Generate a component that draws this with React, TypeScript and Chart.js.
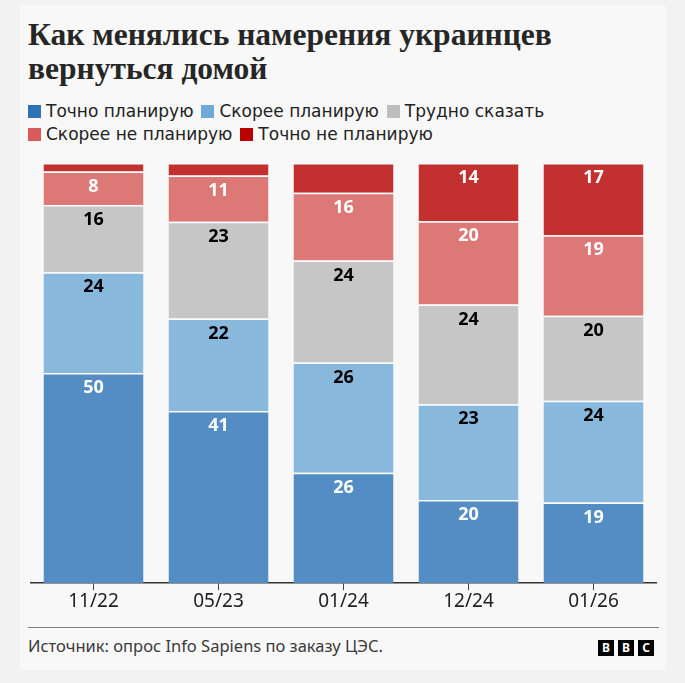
import { useEffect, useRef } from "react";
import { Chart, registerables } from "chart.js";

Chart.register(...registerables);

const periods = ["11/22", "05/23", "01/24", "12/24", "01/26"];
const seriesNames = [
  "Точно планирую",
  "Скорее планирую",
  "Трудно сказать",
  "Скорее не планирую",
  "Точно не планирую",
];
const definitelyYes = [50, 41, 26, 20, 19];
const ratherYes = [24, 22, 26, 23, 24];
const hardToSay = [16, 23, 24, 24, 20];
const ratherNo = [8, 11, 16, 20, 19];
const definitelyNo = [2, 3, 7, 14, 17];

const legendColors = ["#2e71b6", "#6fa9d8", "#bdbdbd", "#d75b5b", "#bb0000"];
const barColors = ["#538dc3", "#89b8dd", "#c6c6c6", "#dc7876", "#c33030"];
const labelColors = ["#ffffff", "#000000", "#000000", "#ffffff", "#ffffff"];
const minLabelValue = 8;

const allSeries = [definitelyYes, ratherYes, hardToSay, ratherNo, definitelyNo];
// each column is drawn as a share of its own total (rounded values don't always add to 100)
const totals = periods.map((_, i) => allSeries.reduce((s, arr) => s + arr[i], 0));

const sans = "'Noto Sans', sans-serif";

const segmentLabels = {
  id: "segmentLabels",
  afterDatasetsDraw(chart: Chart) {
    const ctx = chart.ctx;
    ctx.save();
    ctx.font = `bold 18px ${sans}`;
    ctx.textAlign = "center";
    ctx.textBaseline = "middle";
    chart.data.datasets.forEach((ds, di) => {
      const meta = chart.getDatasetMeta(di);
      meta.data.forEach((bar: any, i) => {
        const value = allSeries[di][i];
        if (value < minLabelValue) return;
        ctx.fillStyle = labelColors[di];
        ctx.fillText(String(value), bar.x, bar.y + 15);
      });
    });
    ctx.restore();
  },
};

const BarChart = () => {
  const canvasRef = useRef<HTMLCanvasElement>(null);

  useEffect(() => {
    if (!canvasRef.current) return;
    const chart = new Chart(canvasRef.current, {
      type: "bar",
      data: {
        labels: periods,
        datasets: allSeries.map((arr, di) => ({
          label: seriesNames[di],
          data: arr.map((v, i) => (v / totals[i]) * 100),
          backgroundColor: barColors[di],
          borderColor: "rgba(255,255,255,0.75)",
          borderWidth: { top: 1.5, bottom: 0, left: 0, right: 0 },
          borderSkipped: false,
          barPercentage: 0.8,
          categoryPercentage: 1,
        })),
      },
      options: {
        animation: false,
        responsive: false,
        layout: { padding: { left: 31, right: 29, top: 13, bottom: 7 } },
        plugins: {
          legend: { display: false },
          tooltip: { enabled: false },
        },
        scales: {
          x: {
            stacked: true,
            grid: {
              display: true,
              drawOnChartArea: false,
              drawTicks: true,
              tickLength: 7,
              offset: false,
              color: "#444",
            },
            border: { display: true, color: "#333", width: 1.5 },
            ticks: {
              color: "#222",
              font: { family: sans, size: 19 },
              padding: 0,
            },
          },
          y: {
            stacked: true,
            display: false,
            min: 0,
            max: 100,
          },
        },
      },
      plugins: [segmentLabels],
    });
    return () => chart.destroy();
  }, []);

  return (
    <canvas
      ref={canvasRef}
      width={685}
      height={470}
      style={{ position: "absolute", left: 0, top: 150, width: 685, height: 470 }}
    />
  );
};

export default function App() {
  return (
    <div
      style={{
        position: "fixed",
        left: 0,
        top: 0,
        width: 685,
        height: 683,
        background: "#f2f2f2",
        fontFamily: sans,
        overflow: "hidden",
      }}
    >
      <div
        style={{
          position: "absolute",
          left: 20,
          top: 5,
          width: 646,
          height: 665,
          background: "#f8f8f8",
        }}
      />
      <div
        style={{
          position: "absolute",
          left: 28,
          top: 18,
          width: 640,
          fontFamily: "'Liberation Serif', serif",
          fontWeight: "bold",
          fontSize: 31.5,
          lineHeight: "34px",
          color: "#262626",
        }}
      >
        Как менялись намерения украинцев
        <br />
        вернуться домой
      </div>
      <div
        style={{
          position: "absolute",
          left: 28,
          top: 100,
          width: 620,
          display: "flex",
          flexWrap: "wrap",
          rowGap: 0,
          columnGap: 8,
          fontFamily: "'DejaVu Sans', sans-serif",
          fontSize: 17,
          lineHeight: "23px",
          color: "#222",
        }}
      >
        {seriesNames.map((name, i) => (
          <div key={name} style={{ display: "flex", alignItems: "center" }}>
            <span
              style={{
                display: "inline-block",
                width: 13,
                height: 13,
                background: legendColors[i],
                marginRight: 5,
              }}
            />
            {name}
          </div>
        ))}
      </div>
      <BarChart />
      <div
        style={{
          position: "absolute",
          left: 28,
          top: 627,
          width: 631,
          height: 0,
          borderTop: "1px solid #808080",
        }}
      />
      <div
        style={{
          position: "absolute",
          left: 28,
          top: 635,
          fontSize: 16.5,
          lineHeight: "22px",
          color: "#3a3a3a",
        }}
      >
        Источник: опрос Info Sapiens по заказу ЦЭС.
      </div>
      <div style={{ position: "absolute", left: 598, top: 640, display: "flex", gap: 4 }}>
        {["B", "B", "C"].map((l, i) => (
          <div
            key={i}
            style={{
              width: 16,
              height: 16,
              background: "#000",
              color: "#fff",
              fontSize: 12,
              fontWeight: "bold",
              lineHeight: "16px",
              textAlign: "center",
            }}
          >
            {l}
          </div>
        ))}
      </div>
    </div>
  );
}
